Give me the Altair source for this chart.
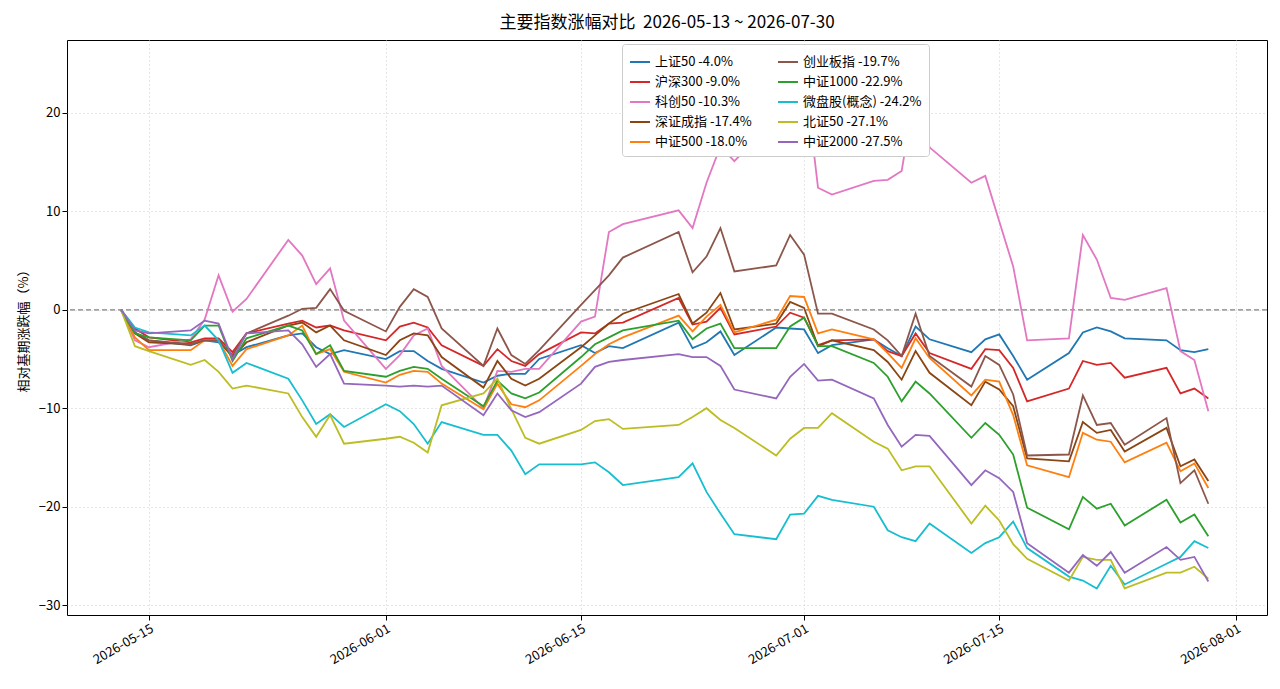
import pandas as pd
import altair as alt

dates = [
    "2026-05-13", "2026-05-14", "2026-05-15", "2026-05-18", "2026-05-19", "2026-05-20", "2026-05-21", "2026-05-22",
    "2026-05-25", "2026-05-26", "2026-05-27", "2026-05-28", "2026-05-29", "2026-06-01", "2026-06-02", "2026-06-03",
    "2026-06-04", "2026-06-05", "2026-06-08", "2026-06-09", "2026-06-10", "2026-06-11", "2026-06-12", "2026-06-15",
    "2026-06-16", "2026-06-17", "2026-06-18", "2026-06-22", "2026-06-23", "2026-06-24", "2026-06-25", "2026-06-26",
    "2026-06-29", "2026-06-30", "2026-07-01", "2026-07-02", "2026-07-03", "2026-07-06", "2026-07-07", "2026-07-08",
    "2026-07-09", "2026-07-10", "2026-07-13", "2026-07-14", "2026-07-15", "2026-07-16", "2026-07-17", "2026-07-20",
    "2026-07-21", "2026-07-22", "2026-07-23", "2026-07-24", "2026-07-27", "2026-07-28", "2026-07-29", "2026-07-30",
]

sz50 = [0, -2.3, -3.1, -3.6, -3.1, -3.3, -4.6, -3.8, -2.6, -2.4, -3.8, -4.5, -4.1, -5.0, -4.2, -4.2, -5.2, -6.0,
        -7.4, -6.7, -6.5, -6.5, -5.0, -3.6, -4.4, -3.7, -3.9, -1.3, -3.9, -3.3, -2.2, -4.6, -1.8, -1.9, -2.0, -4.4,
        -3.6, -3.0, -3.9, -4.7, -1.7, -3.0, -4.3, -3.0, -2.5, -4.7, -7.1, -4.4, -2.3, -1.8, -2.2, -2.9, -3.1, -4.1,
        -4.3, -4.0]
hs300 = [0, -1.9, -2.8, -3.3, -2.9, -2.9, -4.3, -2.4, -1.4, -1.1, -1.8, -1.6, -2.1, -3.1, -1.7, -1.3, -1.8, -3.6,
         -5.7, -4.0, -5.2, -5.7, -4.5, -2.3, -2.4, -1.4, -1.3, 1.2, -1.5, -1.2, 0.2, -2.5, -1.7, -0.3, -0.8, -3.6,
         -3.1, -3.0, -4.2, -4.7, -2.4, -4.4, -6.0, -4.0, -4.1, -5.9, -9.3, -8.0, -5.2, -5.6, -5.4, -6.9, -5.9, -8.5,
         -8.0, -9.0]
kc50 = [0, -3.1, -3.8, -3.0, -1.0, 3.5, -0.2, 1.1, 7.1, 5.5, 2.6, 4.2, -1.1, -6.0, -4.6, -2.6, -1.9, -5.7,
        -10.0, -6.2, -6.3, -6.0, -6.0, -1.2, -0.7, 7.9, 8.7, 10.1, 8.3, 12.9, 16.6, 15.1, 19.5, 22.0, 24.5, 12.4,
        11.7, 13.1, 13.2, 14.1, 22.5, 16.5, 12.9, 13.6, 9.0, 4.4, -3.1, -2.9, 7.6, 5.1, 1.2, 1.0, 2.2, -4.2,
        -5.1, -10.3]
szcz = [0, -2.4, -3.3, -3.5, -3.1, -3.1, -4.8, -3.3, -1.6, -1.3, -2.3, -1.6, -3.1, -4.6, -3.1, -2.4, -2.6, -4.8,
        -7.9, -5.2, -7.0, -7.7, -7.0, -3.8, -2.6, -1.4, -0.4, 1.6, -1.4, -0.3, 1.7, -2.0, -1.4, 0.8, 0.2, -3.7,
        -3.1, -4.1, -5.3, -7.1, -4.2, -6.4, -9.7, -7.3, -8.1, -9.8, -15.1, -15.4, -11.4, -12.5, -12.2, -14.4, -12.0,
        -15.9, -15.2, -17.4]
zz500 = [0, -2.8, -4.1, -4.1, -3.1, -3.1, -5.7, -4.0, -2.6, -1.6, -4.5, -4.0, -6.3, -7.4, -6.6, -6.2, -6.3, -7.5,
         -10.1, -7.5, -9.6, -9.9, -9.2, -5.7, -4.5, -3.5, -2.8, -0.6, -2.2, -0.7, 0.5, -2.3, -1.0, 1.4, 1.3, -2.4,
         -2.0, -3.0, -4.4, -5.9, -2.9, -4.9, -8.7, -7.1, -7.3, -10.7, -15.8, -17.0, -12.5, -13.2, -13.4, -15.5,
         -13.5, -16.4, -15.6, -18.1]
cyb = [0, -2.3, -3.1, -3.5, -3.1, -3.1, -4.6, -2.4, -0.6, 0.1, 0.2, 2.1, -0.1, -2.2, 0.3, 2.1, 1.3, -1.9,
       -5.7, -1.9, -4.6, -5.5, -4.1, 0.5, 2.0, 3.5, 5.3, 7.9, 3.8, 5.4, 8.3, 3.9, 4.5, 7.6, 5.6, -0.4,
       -0.4, -2.0, -3.1, -4.7, -0.4, -4.7, -7.8, -4.7, -5.6, -8.6, -14.8, -14.7, -8.7, -11.7, -11.5, -13.7, -11.0,
       -17.6, -16.3, -19.7]
zz1000 = [0, -2.4, -2.8, -3.1, -1.6, -1.6, -5.2, -2.9, -1.6, -2.1, -4.5, -3.6, -6.2, -6.8, -6.2, -5.8, -6.0, -7.0,
          -9.8, -7.2, -8.5, -9.0, -8.4, -4.8, -3.5, -2.8, -2.1, -1.1, -3.0, -1.9, -1.4, -3.9, -3.9, -1.7, -0.8, -3.7,
          -3.7, -5.4, -6.8, -9.3, -7.3, -8.5, -13.0, -11.5, -12.7, -14.7, -20.1, -22.3, -19.0, -20.2, -19.7, -21.9,
          -19.3, -21.6, -20.8, -23.0]
wpg = [0, -1.8, -2.3, -2.6, -1.6, -3.1, -6.4, -5.4, -7.0, -9.2, -11.6, -10.6, -11.9, -9.6, -10.3, -11.6, -13.6, -11.4,
       -12.7, -12.7, -14.3, -16.7, -15.7, -15.7, -15.5, -16.5, -17.8, -17.0, -15.6, -18.5, -20.7, -22.8, -23.3, -20.8,
       -20.7, -18.9, -19.3, -20.0, -22.4, -23.1, -23.5, -21.7, -24.7, -23.7, -23.1, -21.5, -24.2, -27.1, -27.5, -28.3,
       -26.0, -27.9, -25.8, -25.1, -23.5, -24.2]
bz50 = [0, -3.7, -4.2, -5.6, -5.1, -6.3, -8.0, -7.7, -8.5, -10.9, -12.9, -10.7, -13.6, -13.1, -12.9, -13.5, -14.5, -9.7,
        -8.5, -7.0, -10.1, -13.0, -13.6, -12.2, -11.3, -11.1, -12.1, -11.7, -10.9, -10.0, -11.2, -12.0, -14.8, -13.1,
        -12.0, -12.0, -10.5, -13.4, -14.1, -16.3, -15.9, -15.9, -21.7, -19.9, -21.4, -23.8, -25.3, -27.5, -25.1, -25.4,
        -25.4, -28.3, -26.7, -26.7, -26.1, -27.3]
zz2000 = [0, -2.1, -2.4, -2.1, -1.1, -1.4, -5.0, -2.4, -2.1, -3.5, -5.8, -4.5, -7.5, -7.7, -7.8, -7.7, -7.8, -7.7,
          -10.7, -8.5, -10.2, -10.9, -10.4, -7.5, -5.8, -5.3, -5.1, -4.5, -4.8, -4.8, -5.7, -8.1, -9.0, -6.8, -5.5,
          -7.2, -7.1, -9.0, -11.7, -13.9, -12.7, -12.8, -17.8, -16.3, -17.1, -18.5, -23.7, -26.7, -24.9, -26.0, -24.6,
          -26.7, -24.1, -25.4, -25.1, -27.6]

# legend fills column by column
series = [
    ("上证50 -4.0%", sz50, "#1f77b4"),
    ("沪深300 -9.0%", hs300, "#d62728"),
    ("科创50 -10.3%", kc50, "#e377c2"),
    ("深证成指 -17.4%", szcz, "#8b4513"),
    ("中证500 -18.0%", zz500, "#ff7f0e"),
    ("创业板指 -19.7%", cyb, "#8c564b"),
    ("中证1000 -22.9%", zz1000, "#2ca02c"),
    ("微盘股(概念) -24.2%", wpg, "#17becf"),
    ("北证50 -27.1%", bz50, "#bcbd22"),
    ("中证2000 -27.5%", zz2000, "#9467bd"),
]

rows = []
for name, vals, _ in series:
    for d, v in zip(dates, vals):
        rows.append({"date": d, "name": name, "value": v})
df = pd.DataFrame(rows)

font = "Noto Sans CJK SC"
tick_days = [(5, 15), (6, 1), (6, 15), (7, 1), (7, 15), (8, 1)]

lines = alt.Chart(df).mark_line(strokeWidth=1.8).encode(
    x=alt.X("date:T",
            scale=alt.Scale(type="utc",
                            domain=[alt.DateTime(year=2026, month=5, date=9, hours=3, utc=True),
                                    alt.DateTime(year=2026, month=8, date=3, hours=5, utc=True)]),
            axis=alt.Axis(title=None, format="%Y-%m-%d", labelAngle=-30, labelAlign="right",
                          labelBaseline="top", labelFontSize=13,
                          values=[alt.DateTime(year=2026, month=m, date=d, utc=True) for m, d in tick_days])),
    y=alt.Y("value:Q", scale=alt.Scale(domain=[-31, 27.4], nice=False),
            axis=alt.Axis(title="相对基期涨跌幅（%）", values=[-30, -20, -10, 0, 10, 20], titlePadding=8)),
    color=alt.Color("name:N",
                    scale=alt.Scale(domain=[s[0] for s in series], range=[s[2] for s in series]),
                    sort=[s[0] for s in series],
                    legend=alt.Legend(title=None, orient="none", legendX=555, legendY=4, columns=2,
                                      symbolType="stroke", symbolSize=400, symbolStrokeWidth=2,
                                      labelFontSize=13, labelFont=font, columnPadding=22, rowPadding=2,
                                      fillColor="white", strokeColor="#cccccc", padding=7, cornerRadius=3)),
)

zero = alt.Chart(pd.DataFrame({"y": [0]})).mark_rule(color="gray", strokeDash=[5, 3], strokeWidth=1.2).encode(
    y="y:Q"
)

chart = (zero + lines).properties(
    width=1200, height=575,
    title=alt.Title("主要指数涨幅对比\u00a0\u00a02026-05-13 ~ 2026-07-30", fontSize=17, font=font,
                    fontWeight="normal", offset=8),
    autosize=alt.AutoSizeParams(type="none"),
    padding={"left": 59, "top": 32, "right": 5, "bottom": 60},
).configure_axis(
    labelFont=font, titleFont=font, labelFontSize=13, titleFontSize=13, titleFontWeight="normal",
    gridDash=[1, 3], gridColor="#cccccc", domain=False, tickColor="black", labelColor="black",
).configure_view(stroke="black", strokeWidth=1)

chart.save("out.html", embed_options={"renderer": "svg", "actions": False})
